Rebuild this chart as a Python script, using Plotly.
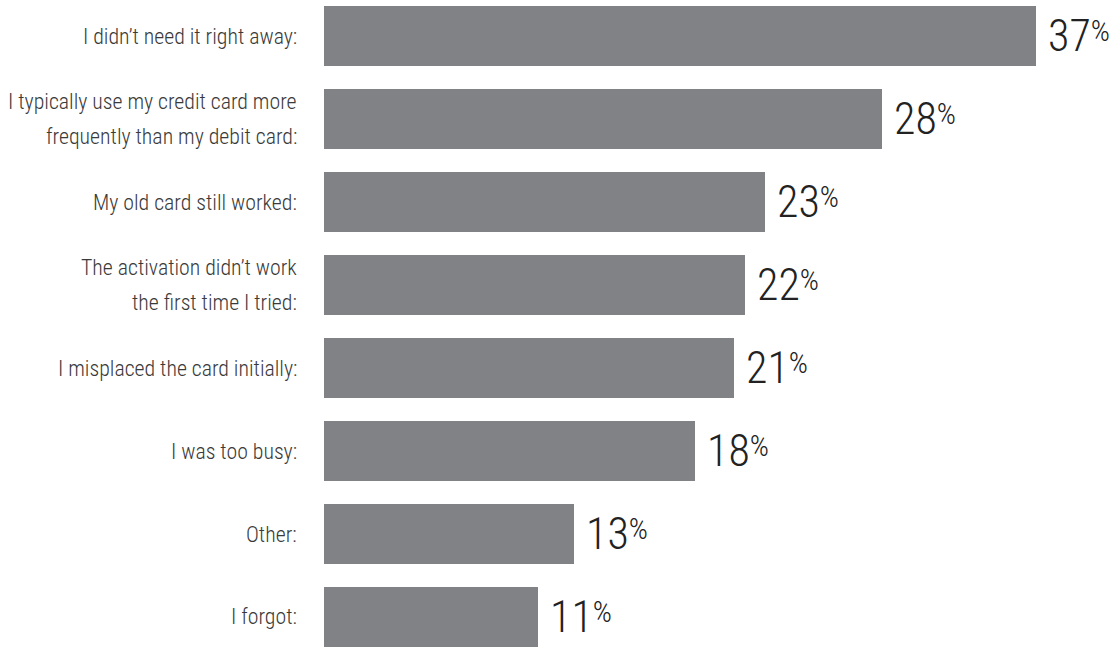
import plotly.graph_objects as go

categories = [
    "I didn’t need it right away:",
    "I typically use my credit card more<br>frequently than my debit card:",
    "My old card still worked:",
    "The activation didn’t work<br>the first time I tried:",
    "I misplaced the card initially:",
    "I was too busy:",
    "Other:",
    "I forgot:",
]
# bar lengths as drawn in the picture (percent)
bar_values = [37, 29.0, 22.9, 21.9, 21.3, 19.3, 13.0, 11.1]
# printed labels
value_labels = [37, 28, 23, 22, 21, 18, 13, 11]

BAR_COLOR = "#818286"
TEXT_COLOR = "#3a3a3a"
FONT = "Roboto Condensed Light, Roboto Condensed, Liberation Sans Narrow, DejaVu Sans Condensed, Arial Narrow, sans-serif"

fig = go.Figure(
    go.Bar(
        x=bar_values,
        y=categories,
        orientation="h",
        marker=dict(color=BAR_COLOR, line=dict(width=0)),
        width=0.723,
        hoverinfo="skip",
    )
)

annotations = []
LINE_GAP = 35
for cat, lab, val in zip(categories, value_labels, bar_values):
    lines = cat.split("<br>")
    n = len(lines)
    for i, line in enumerate(lines):
        offset = ((n - 1) / 2 - i) * LINE_GAP
        annotations.append(dict(
            x=0, xref="x", y=cat, yref="y",
            text=line, showarrow=False,
            xanchor="right", yanchor="middle",
            xshift=-25, yshift=offset,
            font=dict(family=FONT, size=21.8, color=TEXT_COLOR, weight=300),
        ))
    annotations.append(dict(
        x=val, xref="x", y=cat, yref="y",
        text=(f"<span style='font-size:44px'>{lab}</span>"
              f"<sup><span style='font-size:30px'>%</span></sup>"),
        showarrow=False, xanchor="left", yanchor="middle",
        xshift=10, yshift=0,
        font=dict(family=FONT, size=25, color="#222222", weight=300),
    ))

fig.update_layout(
    width=1120, height=656,
    margin=dict(l=324, r=0, t=0, b=0),
    paper_bgcolor="white", plot_bgcolor="white",
    showlegend=False,
    xaxis=dict(range=[0, 41.37], visible=False, fixedrange=True),
    yaxis=dict(range=[7.470, -0.434], visible=False, fixedrange=True,
               categoryorder="array", categoryarray=categories),
    annotations=annotations,
    bargap=0,
)

fig.write_html("out.html")
